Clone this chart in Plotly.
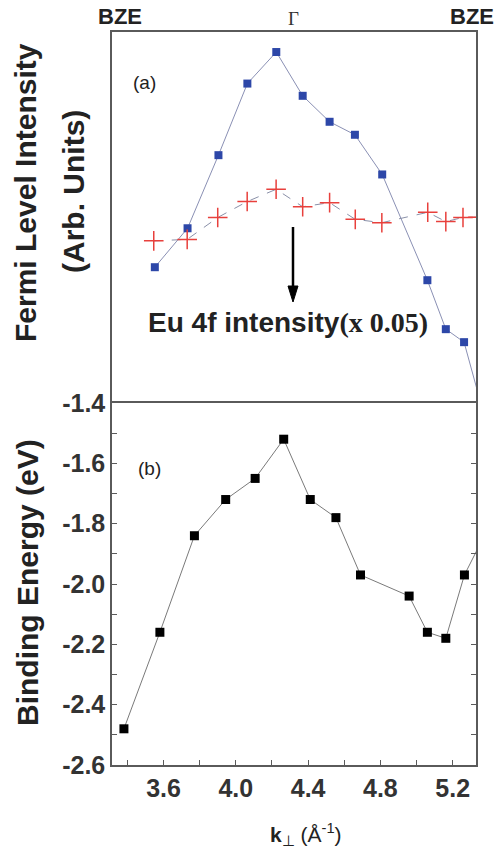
import plotly.graph_objects as go

# ---------------- data ----------------
k_fermi = [3.552, 3.733, 3.904, 4.064, 4.224, 4.370, 4.519, 4.659, 4.810, 5.060, 5.162, 5.263, 5.400]
fermi_intensity = [36.6, 47.1, 66.8, 86.1, 94.6, 82.8, 75.8, 72.3, 61.6, 33.1, 19.9, 16.4, -8.0]

k_eu4f = [3.546, 3.731, 3.900, 4.063, 4.223, 4.370, 4.519, 4.661, 4.808, 5.062, 5.162, 5.257, 5.340]
eu4f_intensity = [43.7, 44.1, 50.0, 54.3, 57.6, 52.9, 54.0, 49.5, 48.6, 51.4, 48.9, 50.0, 50.1]

k_be = [3.381, 3.580, 3.771, 3.944, 4.107, 4.265, 4.412, 4.554, 4.690, 4.959, 5.060, 5.162, 5.265, 5.400]
binding_energy = [-2.48, -2.16, -1.84, -1.72, -1.65, -1.52, -1.72, -1.78, -1.97, -2.04, -2.16, -2.18, -1.97, -1.81]

x_tickvals = [3.6, 4.0, 4.4, 4.8, 5.2]
x_ticktext = ["3.6", "4.0", "4.4", "4.8", "5.2"]
y_tickvals = [-1.4, -1.6, -1.8, -2.0, -2.2, -2.4, -2.6]
y_ticktext = ["-1.4", "-1.6", "-1.8", "-2.0", "-2.2", "-2.4", "-2.6"]

# ---------------- layout geometry ----------------
W, H = 503, 858
ML, MR, MT, MB = 112, 27, 32, 93
PW, PH = W - ML - MR, H - MT - MB
SPLIT = (765 - 403) / PH


def px(xpix):
    return (xpix - ML) / PW


def py(ypix):
    return (H - MB - ypix) / PH


SANS = "Liberation Sans, Arial, sans-serif"
SERIF = "Liberation Serif, Times New Roman, serif"
FRAME = "#5a5a5a"

fig = go.Figure()

fig.add_trace(go.Scatter(
    x=k_fermi, y=fermi_intensity, xaxis="x2", yaxis="y2", mode="lines+markers",
    line=dict(color="#8a90b4", width=1),
    marker=dict(symbol="square", size=8, color="#2d47a8"),
    showlegend=False))

fig.add_trace(go.Scatter(
    x=k_eu4f, y=eu4f_intensity, xaxis="x2", yaxis="y2", mode="lines+markers",
    line=dict(color="#8a90a8", width=1, dash="dash"),
    marker=dict(symbol="cross-thin", size=14, color="#e8403c",
                line=dict(color="#e8403c", width=1.5)),
    showlegend=False))

fig.add_trace(go.Scatter(
    x=k_be, y=binding_energy, xaxis="x", yaxis="y", mode="lines+markers",
    line=dict(color="#7a7a7a", width=1),
    marker=dict(symbol="square", size=9, color="#000000"),
    showlegend=False))

xrange = [3.315, 5.329]

fig.update_layout(
    width=W, height=H,
    margin=dict(l=ML, r=MR, t=MT, b=MB),
    paper_bgcolor="white", plot_bgcolor="white",
    font=dict(family=SANS, color="#222222"),
    xaxis=dict(
        domain=[0, 1], anchor="y", range=xrange,
        showgrid=False, zeroline=False,
        showline=True, linecolor=FRAME, linewidth=1.5, mirror=True,
        ticks="inside", ticklen=5, tickwidth=1.2, tickcolor=FRAME,
        tickvals=x_tickvals, ticktext=x_ticktext,
        tickfont=dict(family=SANS, size=25, color="#333333", weight="bold"),
        minor=dict(ticks="inside", dtick=0.2, tick0=3.4, ticklen=5, tickwidth=1.2, tickcolor=FRAME),
    ),
    yaxis=dict(
        domain=[0, SPLIT], anchor="x", range=[-2.6, -1.4],
        showgrid=False, zeroline=False,
        showline=True, linecolor=FRAME, linewidth=1.5, mirror="ticks",
        ticks="inside", ticklen=5, tickwidth=1.2, tickcolor=FRAME,
        tickvals=y_tickvals, ticktext=y_ticktext,
        tickfont=dict(family=SANS, size=25, color="#333333", weight="bold"),
        minor=dict(ticks="inside", dtick=0.1, tick0=-1.5, ticklen=5, tickwidth=1.2, tickcolor=FRAME),
    ),
    xaxis2=dict(
        domain=[0, 1], anchor="y2", range=xrange, matches="x", side="top",
        showgrid=False, zeroline=False, showticklabels=False, ticks="",
        showline=True, linecolor=FRAME, linewidth=1.5, mirror=False,
    ),
    yaxis2=dict(
        domain=[SPLIT, 1], anchor="x2", range=[0, 100],
        showgrid=False, zeroline=False, showticklabels=False, ticks="",
        showline=True, linecolor=FRAME, linewidth=1.5, mirror=True,
    ),
)

bold = dict(family=SANS, size=30, color="#222222", weight="bold")
ann = []
ann.append(dict(text="Fermi Level Intensity", x=px(25), y=py(193), textangle=-90, font=bold))
ann.append(dict(text="(Arb. Units)", x=px(74), y=py(192), textangle=-90, font=bold))
ann.append(dict(text="Binding Energy (eV)", x=px(27), y=py(583), textangle=-90, font=bold))
ann.append(dict(text="<b>k</b><sub>⊥</sub> (Å<sup>-1</sup>)", x=px(306), y=py(834),
                font=dict(family=SANS, size=21, color="#222222")))
ann.append(dict(text="BZE", x=px(120), y=py(17),
                font=dict(family=SANS, size=22, color="#222222", weight="bold")))
ann.append(dict(text="BZE", x=px(472), y=py(17),
                font=dict(family=SANS, size=22, color="#222222", weight="bold")))
ann.append(dict(text="Γ", x=px(293), y=py(19),
                font=dict(family=SERIF, size=19, color="#333333")))
ann.append(dict(text="(a)", x=px(144), y=py(83),
                font=dict(family=SANS, size=19, color="#222222")))
ann.append(dict(text="(b)", x=px(149), y=py(468),
                font=dict(family=SANS, size=19, color="#222222")))
ann.append(dict(
    text="Eu 4f intensity<span style=\"font-family:'Liberation Serif', serif\">(x 0.05)</span>",
    x=px(288), y=py(322),
    font=dict(family=SANS, size=28, color="#222222", weight="bold")))
for a in ann:
    a.update(xref="paper", yref="paper", showarrow=False, xanchor="center", yanchor="middle")
fig.update_layout(annotations=ann)

# downward arrow (shaft + head)
ax_pix, y_top, y_tip, y_head = 293, 227, 302, 286
fig.add_shape(type="line", xref="paper", yref="paper",
              x0=px(ax_pix), x1=px(ax_pix), y0=py(y_top), y1=py(y_head + 2),
              line=dict(color="#000000", width=2.5))
fig.add_shape(type="path", xref="paper", yref="paper",
              path=f"M {px(ax_pix - 5)} {py(y_head)} L {px(ax_pix + 5)} {py(y_head)} L {px(ax_pix)} {py(y_tip)} Z",
              fillcolor="#000000", line=dict(color="#000000", width=1))

fig.write_html("out.html", config={"displayModeBar": False},
               post_script="document.body.style.margin='0';")
